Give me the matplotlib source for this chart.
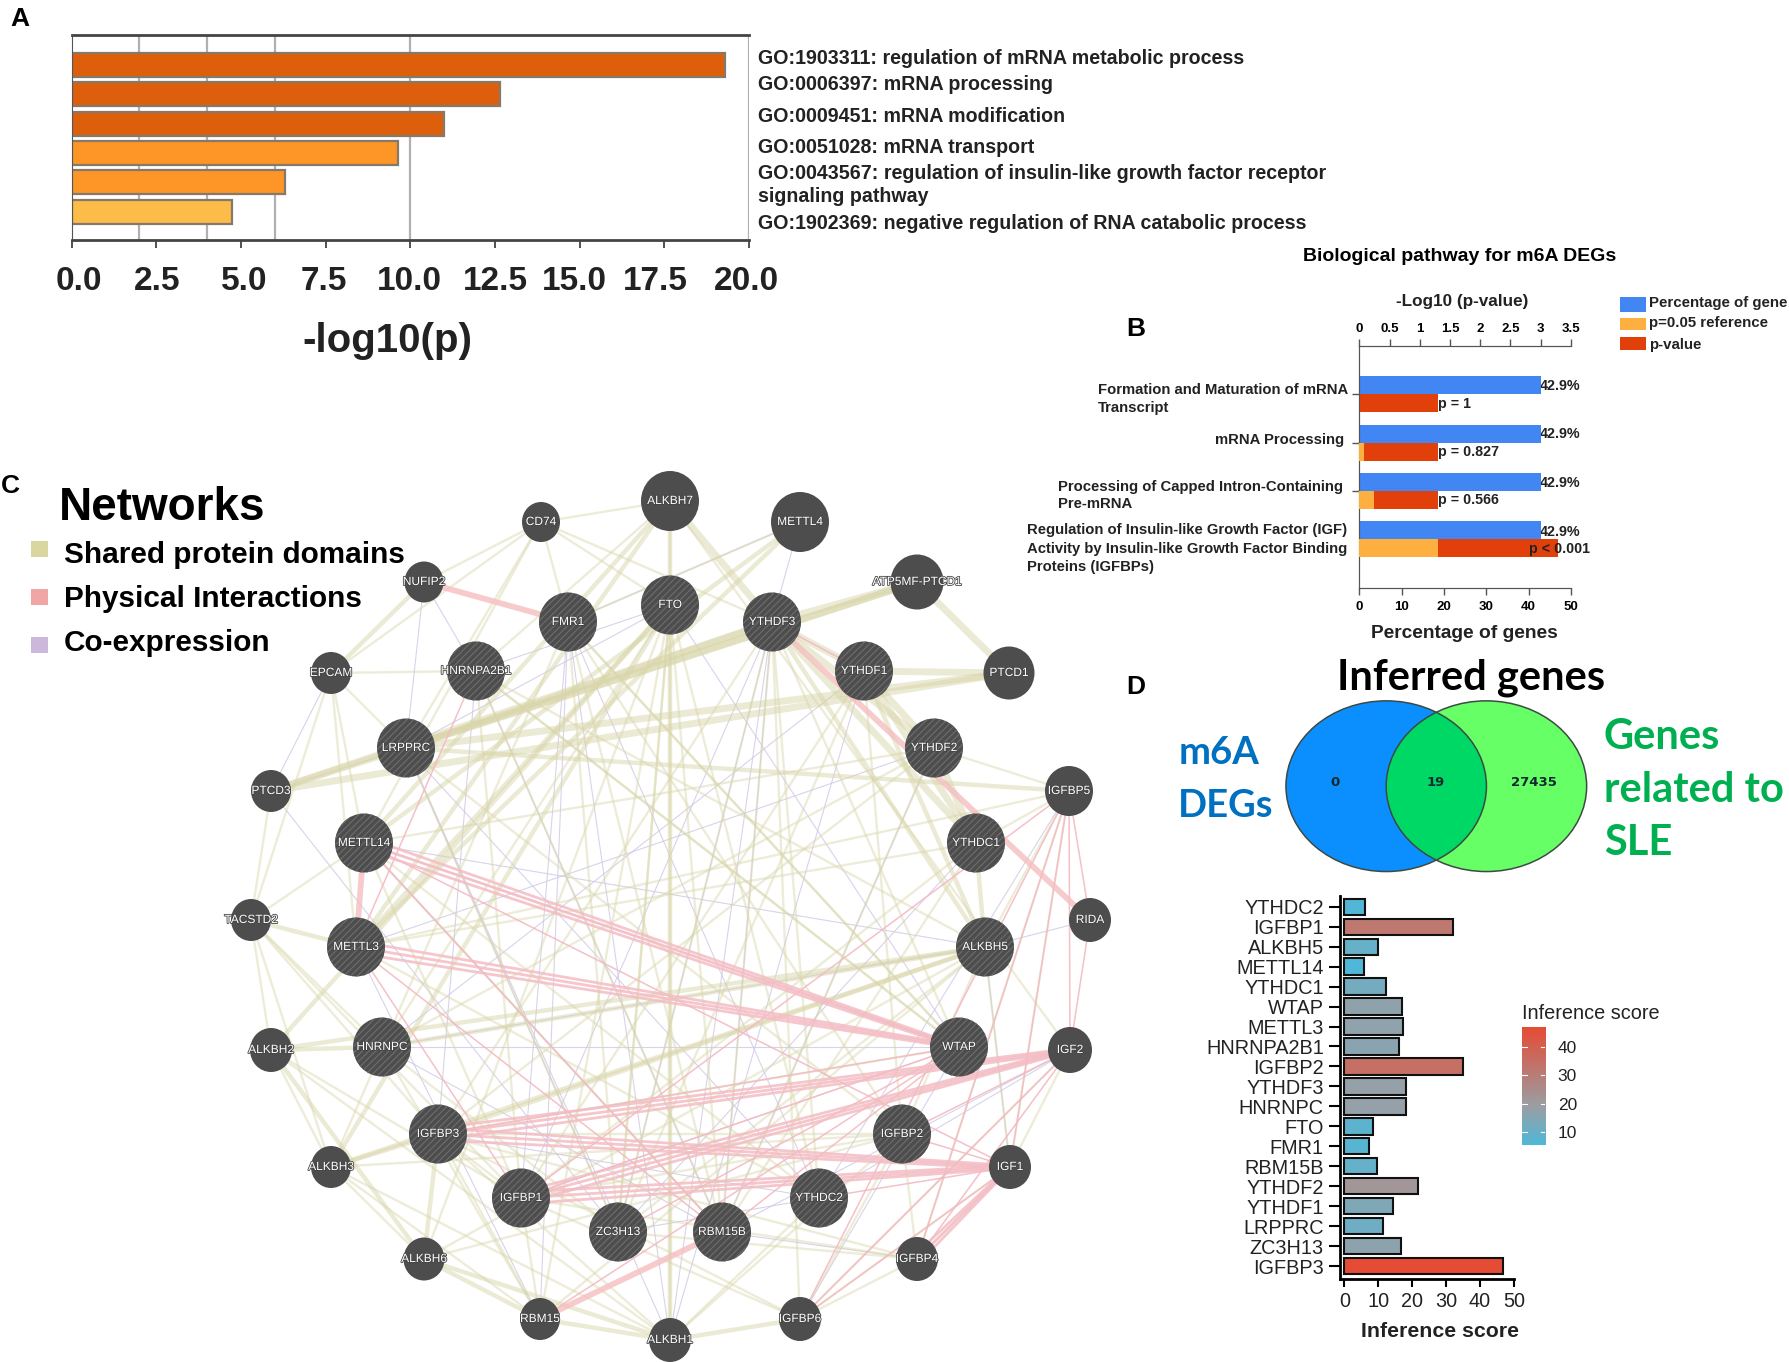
import matplotlib
matplotlib.use("Agg")
import matplotlib.pyplot as plt
import matplotlib.patheffects as pe
from matplotlib.colors import LinearSegmentedColormap, Normalize
from matplotlib.patches import Ellipse, Rectangle
from matplotlib.transforms import ScaledTranslation
import numpy as np

plt.rcParams["font.family"] = ["Liberation Sans", "DejaVu Sans"]
plt.rcParams["hatch.linewidth"] = 0.9

W, H = 1789, 1362

# panel A
go_values = [19.3, 12.65, 11.0, 9.65, 6.3, 4.75]
go_colors = ["#dd5f0c", "#dd5f0c", "#dd5f0c", "#fd9627", "#fd9627", "#fdbb47"]
go_grid = [2, 4, 6, 10, 20]
go_ticks = [0, 2.5, 5, 7.5, 10, 12.5, 15, 17.5, 20]
# the tick labels in the picture sit a bit off their ticks (pixels)
go_label_shift = [7.5, 1, 3, -2, -1, 0, -5, -9, -3]

# panel B
path_percent = [42.9, 42.9, 42.9, 42.9]
path_reference = [0.0, 0.07, 0.24, 1.3]
path_logp = [1.3, 1.3, 1.3, 3.28]
path_pct_labels = ["42.9%", "42.9%", "42.9%", "42.9%"]
path_p_labels = ["p = 1", "p = 0.827", "p = 0.566", "p < 0.001"]

# panel D
genes = ["YTHDC2", "IGFBP1", "ALKBH5", "METTL14", "YTHDC1", "WTAP", "METTL3",
         "HNRNPA2B1", "IGFBP2", "YTHDF3", "HNRNPC", "FTO", "FMR1", "RBM15B",
         "YTHDF2", "YTHDF1", "LRPPRC", "ZC3H13", "IGFBP3"]
scores = [6.2, 32, 9.9, 5.7, 12.4, 17.1, 17.4, 16.1, 34.9, 18.1, 18.1, 8.4,
          7.4, 9.6, 21.8, 14.3, 11.3, 16.6, 46.8]

# panel C, nodes in pixels: name, x, y, radius
hub_nodes = [
    ("FMR1", 568, 622), ("FTO", 670, 605), ("YTHDF3", 772, 622),
    ("YTHDF1", 864, 671), ("HNRNPA2B1", 476, 671), ("LRPPRC", 406, 748),
    ("YTHDF2", 934, 748), ("METTL14", 364, 843), ("YTHDC1", 976, 843),
    ("METTL3", 356, 947), ("ALKBH5", 985, 947), ("HNRNPC", 382, 1047),
    ("WTAP", 959, 1047), ("IGFBP3", 438, 1134), ("IGFBP2", 902, 1134),
    ("IGFBP1", 521, 1198), ("YTHDC2", 819, 1198), ("ZC3H13", 618, 1232),
    ("RBM15B", 722, 1232),
]
plain_nodes = [
    ("ALKBH7", 670, 501, 29), ("METTL4", 800, 522, 29), ("CD74", 541, 522, 19),
    ("NUFIP2", 424, 582, 19.5), ("ATP5MF-PTCD1", 917, 582, 26.5),
    ("PTCD1", 1009, 673, 25.5), ("EPCAM", 331, 673, 20), ("PTCD3", 271, 791, 20),
    ("IGFBP5", 1069, 791, 24), ("TACSTD2", 251, 920, 20), ("RIDA", 1090, 920, 21),
    ("ALKBH2", 271, 1050, 21), ("IGF2", 1070, 1050, 22), ("ALKBH3", 331, 1167, 20),
    ("IGF1", 1010, 1167, 21), ("ALKBH6", 424, 1259, 20.5), ("IGFBP4", 917, 1259, 21),
    ("RBM15", 540, 1319, 20), ("IGFBP6", 800, 1319, 21), ("ALKBH1", 670, 1340, 21),
]

domain_heavy = """YTHDF3 ATP5MF-PTCD1|ATP5MF-PTCD1 PTCD1|YTHDF1 PTCD1|LRPPRC YTHDF3
LRPPRC ATP5MF-PTCD1|PTCD3 YTHDF3|PTCD3 ATP5MF-PTCD1|PTCD3 PTCD1|LRPPRC PTCD1
YTHDF3 YTHDF1|YTHDF1 YTHDF2|YTHDF3 YTHDF2|YTHDF3 YTHDC1|YTHDF2 YTHDC1
YTHDF1 YTHDC1|ALKBH7 YTHDF3"""
domain_mid = """ALKBH7 FTO|FTO ALKBH1|ALKBH7 METTL14|ALKBH7 METTL3|FTO METTL3
METTL4 METTL14|METTL4 METTL3|ALKBH5 YTHDF3|ALKBH5 YTHDF1|YTHDC1 ALKBH5|ALKBH1 RBM15
ALKBH1 ALKBH6|ALKBH2 HNRNPC|ALKBH3 IGFBP3|ALKBH5 HNRNPC|ALKBH5 IGFBP3|EPCAM NUFIP2
TACSTD2 METTL3|ALKBH1 IGFBP6|ALKBH6 RBM15|ALKBH6 IGFBP3|ALKBH2 ALKBH6
FTO ALKBH3|FTO ALKBH2|ALKBH3 ALKBH5|ALKBH2 ALKBH5|IGFBP5 LRPPRC"""
domain_light = """CD74 NUFIP2|CD74 EPCAM|CD74 FMR1|CD74 FTO|CD74 METTL14|CD74 LRPPRC
CD74 YTHDF3|EPCAM HNRNPA2B1|EPCAM LRPPRC|EPCAM METTL14|EPCAM METTL3|EPCAM TACSTD2
TACSTD2 METTL14|TACSTD2 ALKBH2|TACSTD2 ALKBH3|TACSTD2 HNRNPC|TACSTD2 IGFBP3
TACSTD2 IGFBP1|PTCD3 TACSTD2|METTL14 IGFBP1|ALKBH2 ALKBH3|ALKBH2 ALKBH1
ALKBH2 IGFBP1|ALKBH3 ALKBH6|ALKBH3 ALKBH1|ALKBH6 ALKBH5|ALKBH6 IGFBP2|ALKBH6 FTO
RBM15 IGFBP3|RBM15 HNRNPC|RBM15 ALKBH3|RBM15 IGFBP1|ALKBH1 IGFBP3|ALKBH1 ALKBH7
ALKBH1 YTHDC2|ALKBH1 IGFBP2|IGFBP6 IGFBP3|IGFBP6 IGFBP1|IGFBP6 IGFBP2|IGFBP6 IGFBP4
IGFBP6 IGF1|IGFBP6 IGF2|IGFBP6 YTHDF3|IGFBP4 IGFBP3|IGFBP4 IGFBP1|IGFBP4 IGFBP2
IGFBP4 ZC3H13|IGFBP4 IGF1|IGFBP4 IGFBP5|IGFBP2 IGFBP3|IGFBP2 IGFBP1|IGFBP3 IGFBP1
IGF1 IGF2|IGFBP5 YTHDF2|IGFBP5 YTHDC1|IGFBP5 ALKBH5|IGFBP5 IGF1|IGFBP5 METTL3
METTL14 YTHDF2|HNRNPC YTHDF2|WTAP FMR1|RBM15B YTHDF3|RBM15B FTO|ZC3H13 FTO
YTHDC2 YTHDF3|WTAP YTHDF3|YTHDF1 IGFBP1|YTHDF1 IGFBP2|FMR1 IGFBP2|FMR1 ALKBH3
HNRNPA2B1 IGFBP1|HNRNPA2B1 ALKBH5|HNRNPC FTO|ALKBH7 HNRNPA2B1|CD74 ALKBH7
METTL4 FMR1|METTL14 YTHDC2|METTL3 YTHDC1|FMR1 RBM15B|IGF1 ALKBH5|IGF2 ALKBH7
IGFBP2 ALKBH5|HNRNPC ZC3H13|METTL3 YTHDC2|METTL14 RBM15B|LRPPRC ZC3H13|LRPPRC IGFBP2
HNRNPA2B1 RBM15B|HNRNPA2B1 WTAP|FMR1 WTAP|FMR1 ZC3H13|FTO ZC3H13|FTO YTHDC2|FTO RBM15
YTHDF3 ZC3H13|YTHDF3 IGFBP3|YTHDF1 ZC3H13|YTHDF2 IGFBP3|YTHDF2 RBM15B|YTHDC1 IGFBP1
YTHDC1 RBM15B|ALKBH5 ZC3H13|ALKBH5 RBM15|WTAP IGFBP3|WTAP HNRNPA2B1|IGFBP2 ALKBH3"""
physical_band = """METTL3 METTL14|NUFIP2 FMR1|YTHDF3 RIDA|RBM15 RBM15B"""
physical_heavy = """METTL14 WTAP|METTL3 WTAP|IGFBP1 IGF2|IGFBP1 IGF1|IGFBP3 IGF2|IGFBP3 IGF1
IGFBP4 IGF1"""
physical_light = """METTL3 RBM15B|METTL14 RBM15B|HNRNPA2B1 METTL3|IGFBP5 IGF2|IGFBP5 IGF1
IGFBP5 IGFBP4|IGFBP5 IGFBP6|IGF2 IGFBP6|IGF1 IGFBP6|IGFBP3 WTAP|IGFBP1 WTAP|IGFBP5 RIDA
RIDA IGF2|ZC3H13 WTAP|RBM15B WTAP|YTHDC2 IGF1|IGFBP2 IGF2|IGFBP2 IGF1|YTHDF3 YTHDF1
IGFBP1 IGFBP5|METTL3 IGFBP1|RBM15 WTAP|IGFBP4 IGF2|METTL14 IGF1"""
coexpression = """NUFIP2 HNRNPA2B1|PTCD3 EPCAM|PTCD3 LRPPRC|PTCD3 ZC3H13|METTL4 YTHDF3
FMR1 METTL4|HNRNPC WTAP|HNRNPA2B1 FTO|YTHDF3 RBM15B|FTO LRPPRC|LRPPRC ALKBH1
LRPPRC YTHDC2|METTL14 RBM15B|IGFBP3 YTHDC2|HNRNPC RBM15B|RBM15 FMR1|WTAP IGFBP1
ZC3H13 YTHDC2|RBM15B IGFBP4|ALKBH5 IGF1|ALKBH5 RIDA|METTL3 RBM15|NUFIP2 LRPPRC
HNRNPC ALKBH5|YTHDF3 IGFBP1|FMR1 YTHDC2|WTAP IGFBP6|HNRNPA2B1 RBM15B|METTL14 ALKBH5
METTL14 WTAP|YTHDF3 ALKBH1|YTHDF3 ZC3H13|HNRNPA2B1 IGFBP3|FMR1 IGFBP1|YTHDF1 ALKBH1
YTHDF2 RBM15B|YTHDC1 ZC3H13|IGFBP5 YTHDC2|IGF2 YTHDC2|IGF2 RBM15B|HNRNPC YTHDF1
LRPPRC ZC3H13|FTO WTAP|FMR1 ALKBH1|METTL3 YTHDF2"""


def parse_edges(block):
    return [e.split() for e in block.replace("\n", "|").split("|")]


def axes_px(left, top, right, bottom):
    return fig.add_axes([left / W, 1 - bottom / H, (right - left) / W, (bottom - top) / H],
                        facecolor="none")


def label(x, y, s, size, weight="normal", ha="left", color="black", family=None):
    # va=center sits high by about a tenth of the font size
    canvas.text(x, y + size * 0.1, s, fontsize=size, fontweight=weight, ha=ha, va="center",
                color=color, family=family)


fig = plt.figure(figsize=(W / 100, H / 100), dpi=100, facecolor="white")
canvas = fig.add_axes([0, 0, 1, 1])
canvas.set_xlim(0, W)
canvas.set_ylim(H, 0)
canvas.axis("off")

for letter, x, y in [("A", 20, 17), ("B", 1136, 327), ("C", 10, 484), ("D", 1136, 685)]:
    label(x, y, letter, 19, "bold", ha="center")

# ---- panel A ----
ax = axes_px(71.5, 35, 749, 240)
ax.set_xlim(0, 20)
ax.set_ylim(5.97, -1.02)
for g in go_grid:
    ax.axvline(g, color="#b0b0b0", lw=1.6, zorder=1)
ax.barh(range(len(go_values)), go_values, height=0.82, color=go_colors,
        edgecolor="#85796c", linewidth=1.6, zorder=2)
ax.set_yticks([])
ax.set_xticks(go_ticks)
ax.set_xticklabels([f"{t:.1f}" for t in go_ticks], fontsize=24, fontweight="bold", color="#222222")
ax.tick_params(axis="x", length=6, width=1.2, color="#333333", pad=12.5)
for lab, dx in zip(ax.get_xticklabels(), go_label_shift):
    lab.set_transform(lab.get_transform() + ScaledTranslation(dx / 100, 0, fig.dpi_scale_trans))
for side in ["top", "bottom"]:
    ax.spines[side].set_linewidth(2)
    ax.spines[side].set_color("#444444")
ax.spines["left"].set_color("#555555")
ax.spines["right"].set_visible(False)
label(387, 338, "-log10(p)", 29, "bold", ha="center", color="#222222")
go_lines = [(57, "GO:1903311: regulation of mRNA metabolic process"),
            (83.5, "GO:0006397: mRNA processing"),
            (115.5, "GO:0009451: mRNA modification"),
            (146.5, "GO:0051028: mRNA transport"),
            (172, "GO:0043567: regulation of insulin-like growth factor receptor"),
            (195, "signaling pathway"),
            (222.5, "GO:1902369: negative regulation of RNA catabolic process")]
for y, s in go_lines:
    label(758, y, s, 14.15, "bold", color="#222222")

# ---- panel B ----
label(1460, 255, "Biological pathway for m6A DEGs", 14, "bold", ha="center")
label(1462, 300.5, "-Log10 (p-value)", 12.3, "bold", ha="center", color="#222222")
label(1464, 632, "Percentage of genes", 13.8, "bold", ha="center", color="#222222")
for (top, bottom, col, txt, ty) in [(297, 312, "#4286f4", "Percentage of gene", 302),
                                    (318, 330, "#fdb03f", "p=0.05 reference", 321.5),
                                    (337, 350, "#e2400a", "p-value", 344)]:
    canvas.add_patch(Rectangle((1620, top), 26, bottom - top, color=col, lw=0))
    label(1649, ty, txt, 10.8, "bold", color="#222222")

ax = axes_px(1359.4, 345.7, 1570.8, 588.3)
ax.set_xlim(0, 50)
ax.set_ylim(4.01, -1.0)
rows = np.arange(4)
bar_h = 0.372
ax.barh(rows - bar_h / 2, path_percent, height=bar_h, color="#4286f4", zorder=2)
ax.set_xticks([0, 10, 20, 30, 40, 50])
ax.set_xticklabels(["0", "10", "20", "30", "40", "50"], fontsize=9.5, fontweight="bold")
ax.set_yticks(rows[:3])
ax.set_yticklabels([])
ax.tick_params(axis="both", length=5, width=1, color="#555555", pad=4)
top_ax = ax.twiny()
top_ax.set_facecolor("none")
top_ax.set_xlim(0, 3.5)
top_ax.set_xticks(np.arange(0, 3.6, 0.5))
top_ax.set_xticklabels(["0", "0.5", "1", "1.5", "2", "2.5", "3", "3.5"], fontsize=9.5, fontweight="bold")
top_ax.tick_params(axis="x", length=5, width=1, color="#555555", pad=3)
top_ax.barh(rows + bar_h / 2, path_logp, height=bar_h, color="#e2400a", zorder=2)
top_ax.barh(rows + bar_h / 2, path_reference, height=bar_h, color="#fdb03f", zorder=3)
for a in (ax, top_ax):
    a.spines["right"].set_visible(False)
    for side in ["left", "top", "bottom"]:
        a.spines[side].set_color("#555555")
for y, s in [(389.3, "Formation and Maturation of mRNA"), (407.3, "Transcript")]:
    label(1097.5, y, s, 10.75, "bold", color="#222222")
label(1344, 439.3, "mRNA Processing", 10.75, "bold", ha="right", color="#222222")
for y, s in [(485.7, "Processing of Capped Intron-Containing"), (503.3, "Pre-mRNA")]:
    label(1058, y, s, 10.75, "bold", color="#222222")
for y, s in [(529.3, "Regulation of Insulin-like Growth Factor (IGF)"),
             (547.7, "Activity by Insulin-like Growth Factor Binding"),
             (565.7, "Proteins (IGFBPs)")]:
    label(1027, y, s, 10.75, "bold", color="#222222")
for y, s in zip([385, 433, 481.7, 530.7], path_pct_labels):
    label(1540, y, s, 10.3, "bold", color="#222222")
# these sit over the bars, so they go on the top axes
for x, y, s in zip([1438, 1438, 1438, 1528.6], [403.7, 452, 500.3, 549.3], path_p_labels):
    top_ax.text(x, y, s, fontsize=10.3, fontweight="bold", va="center", color="#222222", zorder=10,
                transform=canvas.transData, clip_on=False)

# ---- panel C ----
nodes = {n: (x, y) for n, x, y in hub_nodes}
nodes.update({n: (x, y) for n, x, y, r in plain_nodes})


def draw_edges(block, color, lw, alpha=1.0, spread=0):
    for a, b in parse_edges(block):
        (x0, y0), (x1, y1) = nodes[a], nodes[b]
        offsets = [-spread, 0, spread] if spread else [0]
        for off in offsets:
            canvas.plot([x0, x1], [y0 + off, y1 + off * 0.25], color=color, lw=lw, alpha=alpha,
                        solid_capstyle="butt", zorder=2)


draw_edges(coexpression, "#cfc8e4", 0.8, 0.8)
draw_edges(domain_light, "#d9d6aa", 1.7, 0.45)
draw_edges(domain_mid, "#d9d6aa", 3.2, 0.5)
draw_edges(domain_heavy, "#d9d6aa", 5.0, 0.5)
draw_edges(physical_light, "#f4b9c2", 1.1, 0.9)
draw_edges(physical_heavy, "#f4bcc4", 2.0, 0.85, spread=6)
draw_edges(physical_band, "#f5bfbf", 4.2, 0.8)

for n, x, y in hub_nodes:
    canvas.add_patch(Ellipse((x, y), 58, 59, facecolor="#4d4d4d", edgecolor="#6b6b6b",
                             hatch="/////", lw=0, zorder=4))
    canvas.text(x, y, n, fontsize=8.6, color="white", ha="center", va="center", zorder=6,
                path_effects=[pe.withStroke(linewidth=1.2, foreground="#444444")])
for n, x, y, r in plain_nodes:
    canvas.add_patch(Ellipse((x, y), 2 * r, 2 * r + 2, facecolor="#4d4d4d", lw=0, zorder=4))
    canvas.text(x, y, n, fontsize=8.6, color="white", ha="center", va="center", zorder=6,
                path_effects=[pe.withStroke(linewidth=1.2, foreground="#444444")])

label(59, 505, "Networks", 33, "bold")
for y, sy, col, s in [(552.7, 541, "#d9d6a0", "Shared protein domains"),
                      (596.7, 589, "#f2a5a5", "Physical Interactions"),
                      (641, 637, "#cdb8dc", "Co-expression")]:
    canvas.add_patch(Rectangle((30.5, sy), 17, 16, color=col, lw=0))
    label(64, y, s, 21.4, "bold")

# ---- panel D venn ----
label(1471, 675, "Inferred genes", 30, "bold", ha="center", family="Lato")
left = Ellipse((1386.2, 786.2), 200.5, 170.7, facecolor="#0b8fff", edgecolor="none", zorder=2)
right = Ellipse((1486.4, 786.2), 200.5, 170.7, facecolor="#66ff66", edgecolor="none", zorder=2)
canvas.add_patch(left)
canvas.add_patch(right)
overlap = Ellipse((1486.4, 786.2), 200.5, 170.7, facecolor="#00d866", edgecolor="none", zorder=3)
canvas.add_patch(overlap)
overlap.set_clip_path(left)
for cx in (1386.2, 1486.4):
    canvas.add_patch(Ellipse((cx, 786.2), 200.5, 170.7, facecolor="none", edgecolor="#3c4a44",
                             lw=1.1, zorder=4))
for x, s in [(1334.7, "0"), (1436, "19"), (1534, "27435")]:
    canvas.text(x, 782, s, fontsize=9.5, fontweight="bold", family="DejaVu Sans", ha="center",
                va="center", color="#102a30", zorder=5)
label(1178.3, 750, "m6A", 27.5, "bold", color="#0070c0", family="Lato")
label(1178.3, 803, "DEGs", 27.5, "bold", color="#0070c0", family="Lato")
label(1603.7, 734, "Genes", 30, "bold", color="#00b050", family="Lato")
label(1603.7, 787, "related to", 30, "bold", color="#00b050", family="Lato")
label(1603.7, 840, "SLE", 30, "bold", color="#00b050", family="Lato")

# ---- panel D bars ----
cmap = LinearSegmentedColormap.from_list(
    "score", [(0, "#4fb8d8"), (0.33, "#9b9ea3"), (1, "#e64b35")])
norm = Normalize(min(scores), max(scores))
ax = axes_px(1339.8, 895.5, 1513.8, 1278.6)
ax.set_xlim(-1.36, 50)
ax.set_ylim(18.63, -0.566)
ax.barh(range(len(genes)), scores, height=0.82, color=cmap(norm(scores)),
        edgecolor="#111111", linewidth=1.5)
ax.set_yticks(range(len(genes)))
ax.set_yticklabels(genes, fontsize=14.3, color="#222222")
ax.set_xticks([0, 10, 20, 30, 40, 50])
ax.tick_params(axis="x", labelsize=14.3, length=6, width=1.5, labelcolor="#222222", pad=4)
ax.tick_params(axis="y", length=8, width=1.5, pad=3.5)
for side in ["top", "right"]:
    ax.spines[side].set_visible(False)
for side in ["left", "bottom"]:
    ax.spines[side].set_linewidth(2)
label(1440, 1330, "Inference score", 15.3, "bold", ha="center", color="#222222")

cax = axes_px(1522, 1027.3, 1545.3, 1144.5)
gradient = np.linspace(1, 0, 200).reshape(-1, 1)
cax.imshow(gradient, aspect="auto", cmap=cmap, extent=[0, 1, norm.vmin, norm.vmax])
cax.set_xticks([])
cax.set_yticks([10, 20, 30, 40])
cax.yaxis.tick_right()
cax.tick_params(axis="y", length=0, labelsize=12.5, labelcolor="#222222", pad=9)
for t in [10, 20, 30, 40]:
    cax.plot([0, 0.2], [t, t], color="white", lw=0.8)
    cax.plot([0.8, 1], [t, t], color="white", lw=0.8)
cax.set_xlim(0, 1)
for s in cax.spines.values():
    s.set_visible(False)
label(1522, 1012.5, "Inference score", 14.3, color="#222222")

fig.savefig("out.png", dpi=100)
